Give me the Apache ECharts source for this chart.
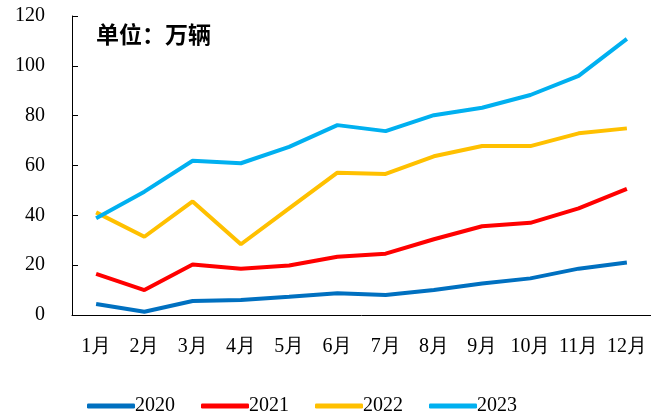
<!DOCTYPE html>
<html>
<head>
<meta charset="utf-8">
<style>
  html, body { margin: 0; padding: 0; background: #fff; }
  #chart { width: 651px; height: 419px; }
</style>
<script src="https://cdn.jsdelivr.net/npm/echarts@6/dist/echarts.min.js"></script>
</head>
<body>
<div id="chart"></div>
<script>
// 月份
const months = ['1月', '2月', '3月', '4月', '5月', '6月', '7月', '8月', '9月', '10月', '11月', '12月'];
// 各年月度数据（万辆）
const y2020 = [4.4, 1.3, 5.6, 6.0, 7.3, 8.7, 8.0, 10.0, 12.6, 14.7, 18.6, 21.1];
const y2021 = [16.5, 10.0, 20.3, 18.6, 19.9, 23.4, 24.6, 30.4, 35.6, 37.0, 42.8, 50.6];
const y2022 = [41.2, 31.4, 45.6, 28.4, 42.8, 57.1, 56.6, 63.7, 67.8, 67.8, 72.9, 74.9];
const y2023 = [38.8, 49.5, 61.9, 60.9, 67.5, 76.2, 73.8, 80.2, 83.2, 88.3, 96.0, 110.8];

const colors = ['#0070C0', '#FF0000', '#FFC000', '#00B0F0'];
const serif = '"Liberation Serif", "Times New Roman", serif';

function line(name, data, color) {
    return {
        name: name,
        type: 'line',
        data: data,
        showSymbol: false,
        symbol: 'none',
        lineStyle: { width: 4, color: color },
        itemStyle: { color: color }
    };
}

const chart = echarts.init(document.getElementById('chart'));
chart.setOption({
    animation: false,
    grid: { left: 72, top: 16, width: 580, height: 299 },
    graphic: [{
        type: 'text',
        left: 96,
        top: 23,
        style: {
            text: '单位：万辆',
            fontSize: 23,
            fontWeight: 'bold',
            fontFamily: '"Noto Sans CJK SC", sans-serif',
            fill: '#000'
        }
    }],
    legend: {
        left: 87,
        top: 396,
        padding: 0,
        icon: 'roundRect',
        itemWidth: 48,
        itemHeight: 5,
        itemGap: 26,
        textStyle: { fontSize: 20, fontFamily: serif, color: '#000', padding: [0, 0, 0, -5] },
        data: ['2020', '2021', '2022', '2023']
    },
    xAxis: {
        type: 'category',
        data: months,
        boundaryGap: true,
        axisLine: { lineStyle: { color: '#000', width: 1 } },
        axisTick: { inside: true, length: 6, lineStyle: { color: '#000' } },
        axisLabel: { interval: 0, margin: 22, fontSize: 20, fontFamily: serif, color: '#000' }
    },
    yAxis: {
        type: 'value',
        min: 0,
        max: 120,
        interval: 20,
        splitLine: { show: false },
        axisLine: { show: true, lineStyle: { color: '#000', width: 1 } },
        axisTick: { show: true, inside: true, length: 6, lineStyle: { color: '#000' } },
        axisLabel: { margin: 27, fontSize: 20, fontFamily: serif, color: '#000' }
    },
    series: [
        line('2020', y2020, colors[0]),
        line('2021', y2021, colors[1]),
        line('2022', y2022, colors[2]),
        line('2023', y2023, colors[3])
    ]
});
</script>
</body>
</html>
